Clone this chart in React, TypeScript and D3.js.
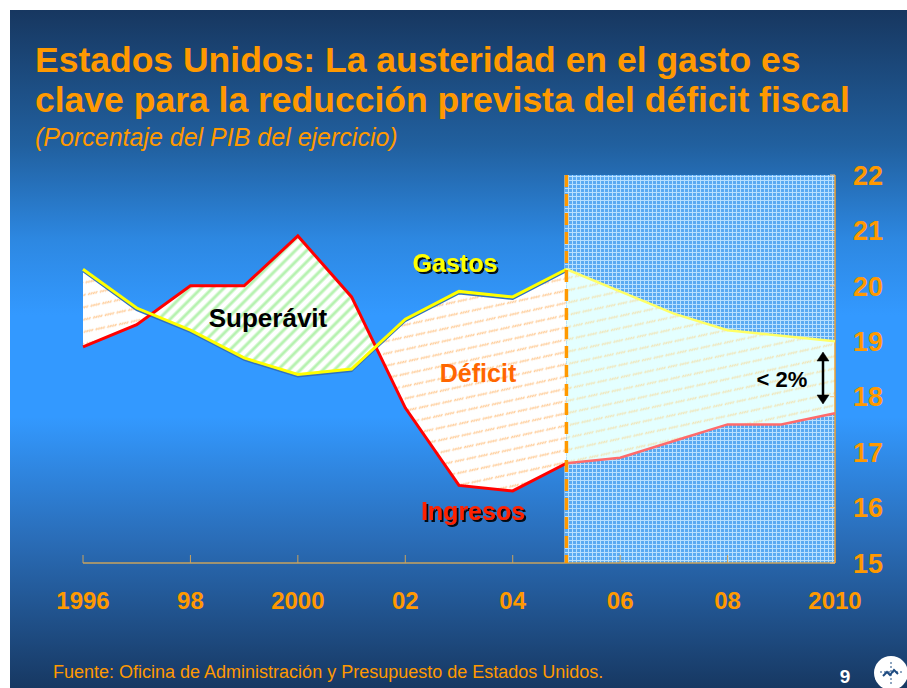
import React from "react";
import * as d3 from "d3";

const years = [1996, 1997, 1998, 1999, 2000, 2001, 2002, 2003, 2004, 2005, 2006, 2007, 2008, 2009, 2010];
const gastos = [20.3, 19.6, 19.2, 18.7, 18.4, 18.5, 19.4, 19.9, 19.8, 20.3, 19.9, 19.5, 19.2, 19.1, 19.0];
const ingresos = [18.9, 19.3, 20.0, 20.0, 20.9, 19.8, 17.8, 16.4, 16.3, 16.8, 16.9, 17.2, 17.5, 17.5, 17.7];
const forecastStart = 2005;
const xTickYears = [1996, 1998, 2000, 2002, 2004, 2006, 2008, 2010];
const xTickLabels = ["1996", "98", "2000", "02", "04", "06", "08", "2010"];
const yTicks = [15, 16, 17, 18, 19, 20, 21, 22];
const titleLines = [
  "Estados Unidos: La austeridad en el gasto es",
  "clave para la reducción prevista del déficit fiscal",
];
const subtitle = "(Porcentaje del PIB del ejercicio)";
const source = "Fuente: Oficina de Administración y Presupuesto de Estados Unidos.";

const FONT = "'Liberation Sans', Arial, sans-serif";
const ORANGE = "#ff9900";

export default function App() {
  const x = d3.scaleLinear().domain([1996, 2010]).range([83, 835]);
  const y = d3.scaleLinear().domain([15, 22]).range([563, 175]);
  const pts = years.map((yr, i) => ({ yr, g: gastos[i], r: ingresos[i] }));
  const hist = pts.filter((p) => p.yr <= forecastStart);
  const fut = pts.filter((p) => p.yr >= forecastStart);

  const between = d3
    .area<any>()
    .x((d) => x(d.yr))
    .y0((d) => y(d.r))
    .y1((d) => y(d.g));
  const aboveG = d3
    .area<any>()
    .x((d) => x(d.yr))
    .y0(() => 100)
    .y1((d) => y(d.g));
  const belowG = d3
    .area<any>()
    .x((d) => x(d.yr))
    .y0(() => 600)
    .y1((d) => y(d.g));
  const lineG = d3.line<any>().x((d) => x(d.yr)).y((d) => y(d.g));
  const lineR = d3.line<any>().x((d) => x(d.yr)).y((d) => y(d.r));

  const x0 = x(forecastStart);
  const x1 = x(2010);

  return (
    <svg
      width={907}
      height={688}
      style={{ position: "absolute", left: 0, top: 0, display: "block" }}
      fontFamily={FONT}
    >
      <defs>
        <linearGradient id="bg" x1="0" y1="0" x2="0" y2="1">
          <stop offset="0" stopColor="#173760" />
          <stop offset="0.2" stopColor="#21609f" />
          <stop offset="0.34" stopColor="#2d88e2" />
          <stop offset="0.45" stopColor="#3399ff" />
          <stop offset="0.6" stopColor="#3399ff" />
          <stop offset="0.78" stopColor="#2a6db8" />
          <stop offset="1" stopColor="#173862" />
        </linearGradient>
        <pattern id="surplus" width="8" height="8" patternUnits="userSpaceOnUse" patternTransform="rotate(45)">
          <rect width="8" height="8" fill="#ffffff" />
          <line x1="2" y1="0" x2="2" y2="8" stroke="#b6f2b0" strokeWidth="3" />
        </pattern>
        <pattern id="deficit" width="12" height="12" patternUnits="userSpaceOnUse" patternTransform="rotate(-12)">
          <rect width="12" height="12" fill="#ffffff" />
          <path d="M1,7 L3,5 M3.5,7 L5.5,5 M6,7 L8,5 M8.5,7 L10.5,5" stroke="#ffcb95" strokeWidth="1.3" />
        </pattern>
        <pattern id="futfill" width="12" height="12" patternUnits="userSpaceOnUse" patternTransform="rotate(-12)">
          <rect width="12" height="12" fill="#e4ffff" />
          <path d="M1,7 L3,5 M3.5,7 L5.5,5 M6,7 L8,5 M8.5,7 L10.5,5" stroke="#f2e4b4" strokeWidth="1.2" />
        </pattern>
        <pattern id="grid" width="4" height="4" patternUnits="userSpaceOnUse">
          <rect width="4" height="4" fill="#5aaaf2" />
          <path d="M0,0.5 H4 M0.5,0 V4" stroke="#b8e0ff" strokeWidth="1" />
        </pattern>
        <clipPath id="clipAbove">
          <path d={aboveG(hist) || ""} />
        </clipPath>
        <clipPath id="clipBelow">
          <path d={belowG(hist) || ""} />
        </clipPath>
        <filter id="shadow" x="-10%" y="-10%" width="130%" height="140%">
          <feDropShadow dx="2" dy="2" stdDeviation="0.3" floodColor="#000" floodOpacity="0.9" />
        </filter>
      </defs>

      <rect x={0} y={0} width={907} height={688} fill="#ffffff" />
      <rect x={10} y={10} width={897} height={678} fill="url(#bg)" />

      {/* title */}
      <text x={35} y={72} fill={ORANGE} fontSize={35.5} fontWeight="bold">
        {titleLines[0]}
      </text>
      <text x={35} y={112} fill={ORANGE} fontSize={35.5} fontWeight="bold">
        {titleLines[1]}
      </text>
      <text x={35} y={146} fill={ORANGE} fontSize={25} fontStyle="italic">
        {subtitle}
      </text>

      {/* forecast grid area */}
      <rect x={x0 - 2} y={y(22)} width={x1 - x0 + 2} height={y(15) - y(22)} fill="url(#grid)" />

      {/* historical areas */}
      <path d={between(hist) || ""} fill="url(#surplus)" clipPath="url(#clipAbove)" />
      <path d={between(hist) || ""} fill="url(#deficit)" clipPath="url(#clipBelow)" />
      {/* forecast area */}
      <path d={between(fut) || ""} fill="url(#futfill)" />

      {/* x axis */}
      <line x1={x(1996)} x2={x1} y1={y(15)} y2={y(15)} stroke="#c9a35e" strokeWidth={1.5} />
      {xTickYears.concat([2005]).map((yr) => (
        <line
          key={"xt" + yr}
          x1={x(yr)}
          x2={x(yr)}
          y1={y(15)}
          y2={y(15) - 8}
          stroke={yr === 2005 ? ORANGE : "#c9a35e"}
          strokeWidth={yr === 2005 ? 3 : 1}
        />
      ))}
      {xTickYears.map((yr, i) => (
        <text
          key={"xl" + yr}
          x={x(yr)}
          y={609}
          textAnchor="middle"
          fill={ORANGE}
          fontSize={24}
          fontWeight="bold"
        >
          {xTickLabels[i]}
        </text>
      ))}

      {/* right axis */}
      <line x1={x1} x2={x1} y1={y(22)} y2={y(15)} stroke="#f0a030" strokeWidth={1.5} />
      {yTicks.map((t) => (
        <g key={"yt" + t}>
          <line x1={x1 - 5} x2={x1} y1={y(t)} y2={y(t)} stroke="#f0c080" strokeWidth={1} />
          <text
            x={868}
            y={y(t)}
            dy="0.36em"
            textAnchor="middle"
            fill={ORANGE}
            fontSize={27}
            fontWeight="bold"
          >
            {t}
          </text>
        </g>
      ))}

      {/* lines: historical */}
      <path d={lineG(hist) || ""} fill="none" stroke="#2f6fc0" strokeWidth={2} transform="translate(0,2)" />
      <path d={lineR(hist) || ""} fill="none" stroke="#ff0000" strokeWidth={3} />
      <path d={lineG(hist) || ""} fill="none" stroke="#ffff00" strokeWidth={3} />
      {/* lines: forecast */}
      <path d={lineR(fut) || ""} fill="none" stroke="#ff6b6b" strokeWidth={2.5} />
      <path d={lineG(fut) || ""} fill="none" stroke="#ffff66" strokeWidth={2.5} />

      {/* dashed forecast line */}
      <line
        x1={x0}
        x2={x0}
        y1={y(22)}
        y2={y(15)}
        stroke={ORANGE}
        strokeWidth={3.5}
        strokeDasharray="12 7"
      />

      {/* labels */}
      <text x={455} y={272} textAnchor="middle" fill="#ffff00" fontSize={25} fontWeight="bold" filter="url(#shadow)">
        Gastos
      </text>
      <text x={268} y={327} textAnchor="middle" fill="#000000" fontSize={26} fontWeight="bold">
        Superávit
      </text>
      <text x={478} y={382} textAnchor="middle" fill="#ff6600" fontSize={25} fontWeight="bold">
        Déficit
      </text>
      <text x={473} y={520} textAnchor="middle" fill="#ff2200" fontSize={25} fontWeight="bold" filter="url(#shadow)">
        Ingresos
      </text>
      <text x={782} y={387} textAnchor="middle" fill="#000000" fontSize={22} fontWeight="bold">
        {"< 2%"}
      </text>
      <g stroke="#000" strokeWidth={2.5} fill="#000">
        <line x1={823} x2={823} y1={358} y2={398} />
        <path d="M817,361 L823,352 L829,361 Z" strokeWidth={0.5} />
        <path d="M817,395 L823,404 L829,395 Z" strokeWidth={0.5} />
      </g>

      {/* footer */}
      <text x={53} y={678} fill={ORANGE} fontSize={18}>
        {source}
      </text>
      <text x={845} y={683} textAnchor="middle" fill="#ffffff" fontSize={19} fontWeight="bold">
        9
      </text>
      <g>
        <circle cx={891} cy={673} r={17} fill="#ffffff" />
        <path d="M880,672 h22 M891,662 v22" stroke="#1d4a80" strokeWidth={1} strokeDasharray="2 2" />
        <path d="M883,676 l4,-4 l3,3 l4,-5 l4,4" stroke="#1d4a80" strokeWidth={2} fill="none" />
      </g>
    </svg>
  );
}
